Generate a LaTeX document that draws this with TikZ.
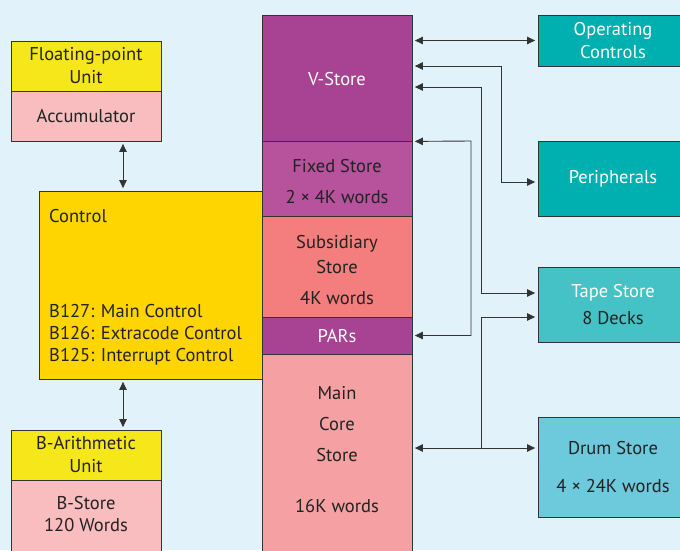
\documentclass[tikz,border=0pt]{standalone}
\usepackage{fontspec}
\setmainfont{PT Sans}
\usetikzlibrary{arrows.meta}
\definecolor{bg}{HTML}{E2F2FB}
\definecolor{edge}{HTML}{333333}
\definecolor{ink}{HTML}{222222}
\definecolor{yel}{HTML}{F6E71A}
\definecolor{pnk}{HTML}{F9BDBF}
\definecolor{gold}{HTML}{FFD500}
\definecolor{pur}{HTML}{A84393}
\definecolor{fixc}{HTML}{B6539C}
\definecolor{subc}{HTML}{F47D7D}
\definecolor{corec}{HTML}{F5A0A2}
\definecolor{teal}{HTML}{00AFAF}
\definecolor{tapec}{HTML}{44C2C6}
\definecolor{drumc}{HTML}{6DCADC}
\newcommand{\fs}{\fontsize{18.5}{23}\selectfont}
\tikzset{
  blk/.style={draw=edge, line width=0.8pt, inner sep=0pt, text=ink, align=center, font=\fs},
  txt/.style={inner sep=0pt, text=ink, align=center, font=\fs},
  tip/.tip={Triangle[length=8pt,width=7.5pt]},
  lnk/.style={draw=edge, line width=0.9pt, tip-tip, shorten <=2.5pt, shorten >=2.5pt},
  lnkone/.style={draw=edge, line width=0.9pt, -tip, shorten >=2.5pt},
}

\begin{document}
\begin{tikzpicture}[x=1pt,y=-1pt]
  \useasboundingbox (0,0) rectangle (680,550);
  \fill[bg] (0,0) rectangle (680,550);
  \clip (0,0) rectangle (680,550);

  \node[blk, fill=yel, minimum width=150, minimum height=50] (fpu) at (86,66) {Floating-point\\Unit};
  \node[blk, fill=pnk, minimum width=150, minimum height=50] (acc) at (86,116) {Accumulator};
  \node[blk, fill=gold, minimum width=223, minimum height=188] (ctrl) at (150.5,285) {};
  \node[txt, anchor=west] (ctrlname) at (49,216) {Control};
  \node[txt, anchor=west, align=left, font=\fontsize{18.5}{22}\selectfont] (ctrlregs) at (49,335)
    {B127: Main Control\\B126: Extracode Control\\B125: Interrupt Control};
  \node[blk, fill=yel, minimum width=150, minimum height=50] (bau) at (86,455) {B-Arithmetic\\Unit};
  \node[blk, fill=pnk, minimum width=150, minimum height=80] (bst) at (86,520) {};
  \node[txt, font=\fontsize{18.5}{22}\selectfont] (bstname) at (86,514) {B-Store\\120 Words};

  \node[blk, fill=pur, minimum width=150, minimum height=126] (vst) at (337,78) {};
  \node[blk, fill=fixc, minimum width=150, minimum height=75] (fix) at (337,178.5) {};
  \node[blk, fill=subc, minimum width=150, minimum height=101] (sub) at (337,266.5) {};
  \node[blk, fill=pur, minimum width=150, minimum height=37] (pars) at (337,335.5) {};
  \node[blk, fill=corec, minimum width=150, minimum height=206] (core) at (337,457) {};
  \node[txt, text=white] (vstname) at (337,79) {V-Store};
  \node[txt, font=\fontsize{18.5}{31}\selectfont] (fixname) at (337,181.5) {Fixed Store\\2 × 4K words};
  \node[txt, font=\fontsize{18.5}{25}\selectfont] (subname) at (337,270) {Subsidiary\\Store\\[6pt]4K words};
  \node[txt, text=white] (parsname) at (337,336) {PARs};
  \node[txt, font=\fontsize{18.5}{31}\selectfont] (corename) at (337,449.5) {Main\\Core\\Store\\[20pt]16K words};

  \node[blk, fill=teal, text=white, minimum width=150, minimum height=51] (opc) at (613,40.5) {Operating\\Controls};
  \node[blk, fill=teal, text=white, minimum width=150, minimum height=75] (per) at (613,178.5) {Peripherals};
  \node[blk, fill=tapec, minimum width=150, minimum height=75, font=\fontsize{18.5}{27}\selectfont] (tape) at (613,304.5)
    {\textcolor{white}{Tape Store}\\8 Decks};
  \node[blk, fill=drumc, minimum width=150, minimum height=100, font=\fontsize{18.5}{38}\selectfont] (drum) at (613,467)
    {Drum Store\\4 × 24K words};

  \coordinate (ax) at (123,0);
  \coordinate (j1) at (501,66);
  \coordinate (j2) at (481,87);
  \coordinate (j3) at (471,141);
  \coordinate (j4) at (481,448);

  \draw[lnk] (acc.south -| ax) -- (ctrl.north -| ax);
  \draw[lnk] (ctrl.south -| ax) -- (bau.north -| ax);
  \draw[lnk] (opc.west -| vst.east) -- (opc.west);
  \draw[lnk] (vst.east |- j1) -- (j1) |- ([yshift=-3.5pt]per.west);
  \draw[lnk] (vst.east |- j2) -- (j2) |- ([yshift=11.5pt]tape.west);
  \draw[lnk] (vst.south east) -- (j3) |- (pars.east);
  \draw[lnk] (core.east |- j4) -- (j4 -| drum.west);
  \draw[lnkone] (j4) |- ([yshift=-12.5pt]tape.west);
\end{tikzpicture}
\end{document}
